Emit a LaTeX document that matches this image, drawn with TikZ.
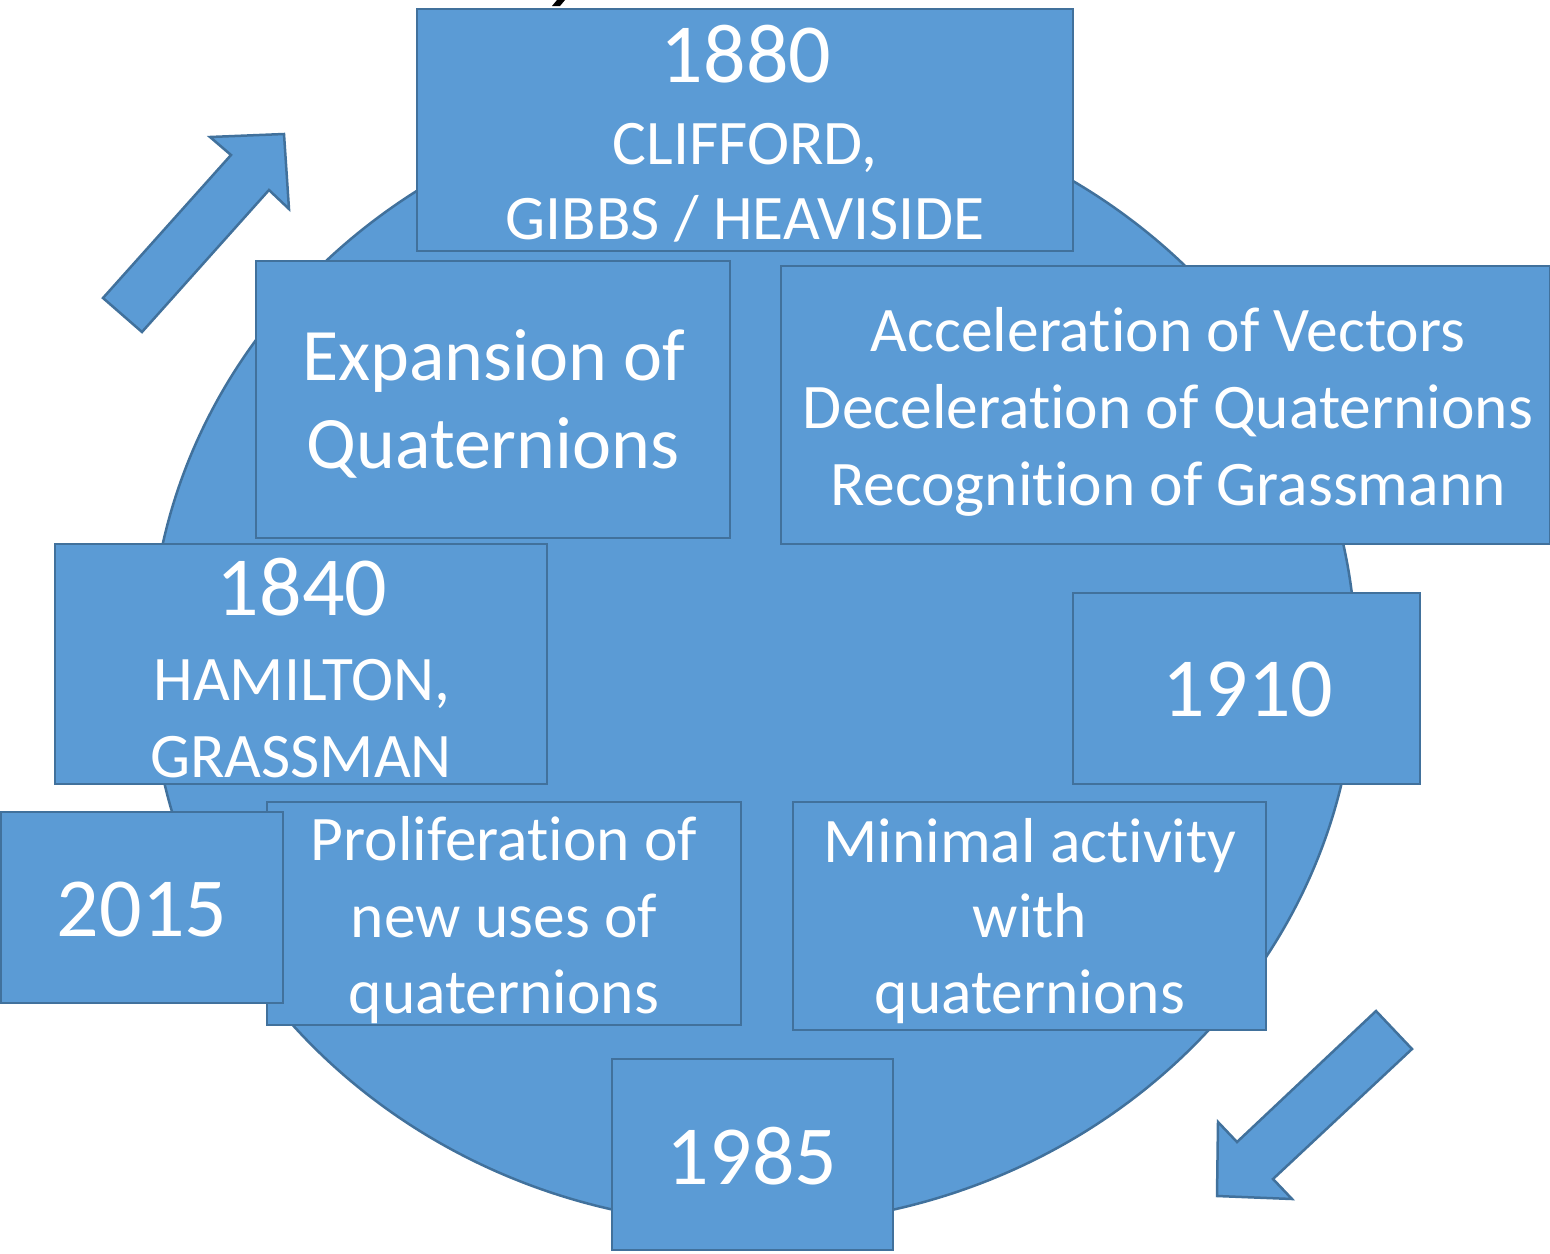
\documentclass[tikz,border=0pt]{standalone}
\usepackage{fontspec}
\setmainfont[Ligatures=NoCommon]{Carlito}
\definecolor{fillblue}{HTML}{5B9BD5}
\definecolor{edgeblue}{HTML}{41719C}
\begin{document}
\begin{tikzpicture}[x=1pt,y=-1pt,
  shapeblue/.style={fill=fillblue,draw=edgeblue,line width=2.5pt,line join=miter},
  box/.style={shapeblue,rectangle,inner sep=0pt,outer sep=0pt,anchor=north west},
  txt/.style={text=white,inner sep=0pt,anchor=base},
  bigtxt/.style={txt,font=\fontsize{84}{100}\selectfont},
  midtxt/.style={txt,font=\fontsize{63.5}{77}\selectfont},
  largetxt/.style={txt,font=\fontsize{74}{88}\selectfont}]
\useasboundingbox (0,0) rectangle (1550,1253);

% fragment of a cut-off title glyph at the top
\fill[black] (557,0) -- (565,0) -- (560,6) -- (552,6) -- cycle;

% big ellipse
\draw[shapeblue] (753,660) ellipse [x radius=603pt, y radius=565pt];

% block arrows
\draw[shapeblue] (103,298) -- (231,155) -- (210,137) -- (284,134) -- (289,209) -- (269,190) -- (142,332) -- cycle;
\draw[shapeblue] (1376,1011) -- (1412,1049) -- (1273,1179) -- (1292,1199) -- (1217,1196) -- (1218,1122) -- (1237,1142) -- cycle;

% boxes
\node[box,minimum width=656pt,minimum height=242pt] (b1880) at (417,9) {};
\node[box,minimum width=474pt,minimum height=277pt] (bexp) at (256,261) {};
\node[box,minimum width=769pt,minimum height=278pt] (bacc) at (781,266) {};
\node[box,minimum width=492pt,minimum height=240pt] (b1840) at (55,544) {};
\node[box,minimum width=347pt,minimum height=191pt] (b1910) at (1073,593) {};
\node[box,minimum width=474pt,minimum height=223pt] (bprol) at (267,802) {};
\node[box,minimum width=282pt,minimum height=191pt] (b2015) at (1,812) {};
\node[box,minimum width=473pt,minimum height=228pt] (bmin) at (793,802) {};
\node[box,minimum width=281pt,minimum height=191pt] (b1985) at (612,1059) {};

% texts
\node[bigtxt] (t1880a) at (746,82) {1880};
\node[midtxt] (t1880b) at (745,164) {CLIFFORD,};
\node[midtxt] (t1880c) at (745,239) {GIBBS / HEAVISIDE};

\node[largetxt] (texpa) at (494,380) {Expansion of};
\node[largetxt] (texpb) at (493,468) {Quaternions};

\node[midtxt] (tacca) at (1168,351) {Acceleration of Vectors};
\node[midtxt] (taccb) at (1168,428) {Deceleration of Quaternions};
\node[midtxt] (taccc) at (1168,505) {Recognition of Grassmann};

\node[bigtxt] (t1840a) at (302,615) {1840};
\node[midtxt] (t1840b) at (302,700) {HAMILTON,};
\node[midtxt] (t1840c) at (301,777) {GRASSMAN};

\node[bigtxt] (t1910) at (1248,716) {1910};

\node[midtxt] (tprola) at (504,860) {Proliferation of};
\node[midtxt] (tprolb) at (504,937) {new uses of};
\node[midtxt] (tprolc) at (504,1013) {quaternions};

\node[bigtxt] (t2015) at (142,936) {2015};

\node[midtxt] (tmina) at (1030,862) {Minimal activity};
\node[midtxt] (tminb) at (1030,937) {with};
\node[midtxt] (tminc) at (1030,1013) {quaternions};

\node[bigtxt] (t1985) at (752,1184) {1985};
\end{tikzpicture}
\end{document}
